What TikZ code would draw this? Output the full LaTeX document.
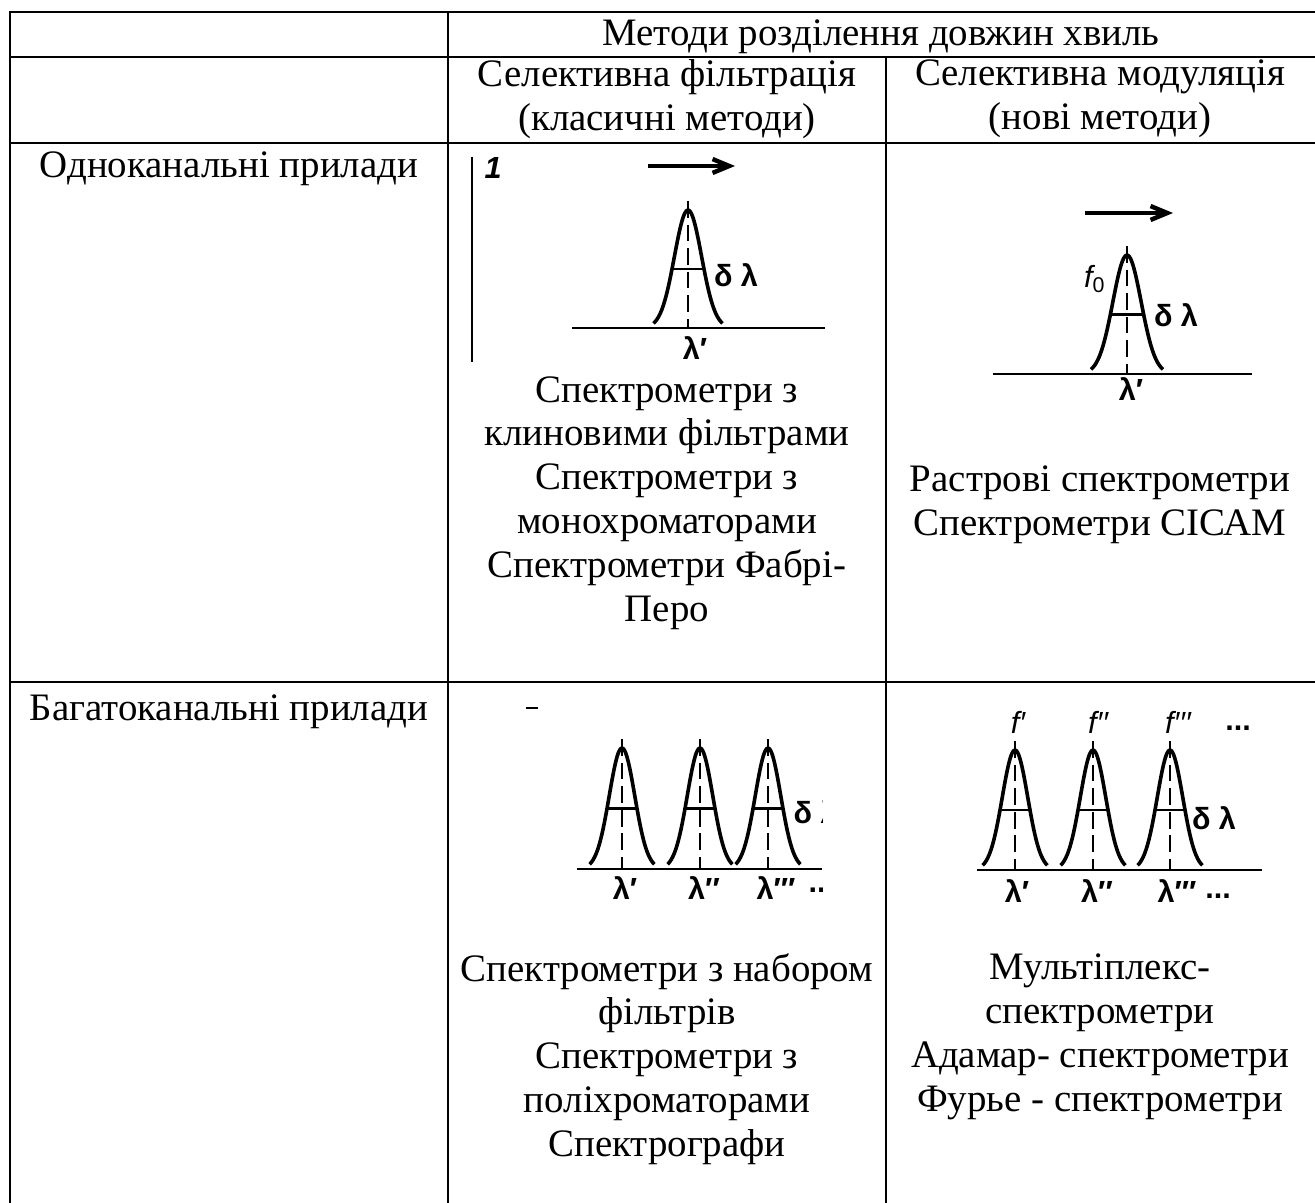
\documentclass[tikz,border=0pt]{standalone}
\usepackage{fontspec}
\setmainfont{Liberation Serif}
\newfontfamily\plotfont{Liberation Sans}
\usetikzlibrary{arrows.meta}

\newcommand{\specpeak}[4]{%
  \draw[bell] plot[domain=-1.8*#4:1.8*#4, samples=41, smooth] ({#1+\x},{#2-#3*exp(-(\x/#4)^2)});
  \draw[centre] (#1,#2-#3-9) -- (#1,#2);
  \draw[half] (#1-0.83*#4,#2-0.5*#3) -- (#1+0.83*#4,#2-0.5*#3);
}

\begin{document}
\begin{tikzpicture}[x=0.36pt, y=-0.36pt,
    rule/.style={line width=1pt},
    cell/.style={inner sep=0pt, align=center, font=\fontsize{14}{15.8}\selectfont},
    lbl/.style={inner sep=0pt, font=\plotfont\bfseries\fontsize{11}{12}\selectfont},
    flbl/.style={inner sep=0pt, font=\plotfont\itshape\fontsize{11}{12}\selectfont},
    bell/.style={line width=1.3pt},
    half/.style={line width=0.9pt},
    xline/.style={line width=1pt},
    centre/.style={line width=0.9pt, dash pattern=on 6pt off 2.5pt},
    arr/.style={line width=1.6pt, -{Straight Barb[length=6pt,width=5pt]}}
  ]
  \useasboundingbox (0,0) rectangle (1315,1203);

  \draw[rule] (1315,12) -- (10,12) -- (10,1203);
  \draw[rule] (10,57) -- (1315,57);
  \draw[rule] (10,143) -- (1315,143);
  \draw[rule] (10,682) -- (1315,682);
  \draw[rule] (448,12) -- (448,1203);
  \draw[rule] (886,57) -- (886,1203);

  \node[cell] (hdr) at (881,37) {Методи розділення довжин хвиль};
  \node[cell] (filt) at (667,99) {Селективна фільтрація\\(класичні методи)};
  \node[cell] (modul) at (1100,99) {Селективна модуляція\\(нові методи)};
  \node[cell] (single) at (229,169) {Одноканальні прилади};
  \node[cell] (multi) at (229,712) {Багатоканальні прилади};

  \node[cell] (filtsingle) at (667,503) {Спектрометри з\\клиновими фільтрами\\Спектрометри з\\монохроматорами\\Спектрометри Фабрі-\\Перо};
  \node[cell] (modsingle) at (1100,505) {Растрові спектрометри\\Спектрометри СІСАМ};
  \node[cell] (filtmulti) at (667,1059) {Спектрометри з набором\\фільтрів\\Спектрометри з\\поліхроматорами\\Спектрографи};
  \node[cell] (modmulti) at (1100,1037) {Мультіплекс-\\спектрометри\\Адамар- спектрометри\\Фурье - спектрометри};

  % single channel, filter
  \draw[line width=0.8pt] (472,157) -- (472,362);
  \node[lbl, font=\plotfont\bfseries\itshape\fontsize{11}{12}\selectfont] (one) at (493,168) {1};
  \coordinate (a1s) at (648,166);
  \coordinate (a1e) at (735,166);
  \draw[arr] (a1s) -- (a1e);
  \draw[xline] (572,328) -- (825,328);
  \specpeak{688}{328}{118}{19.2}
  \node[lbl] (dl1) at (736,275) {δ λ};
  \node[lbl] (lam1) at (695,348) {λ′};

  % single channel, modulation
  \coordinate (a2s) at (1085,213);
  \coordinate (a2e) at (1173,213);
  \draw[arr] (a2s) -- (a2e);
  \draw[xline] (993,374) -- (1252,374);
  \specpeak{1127}{374}{119}{20}
  \node[flbl] (f0) at (1095,279) {f\upshape\textsubscript{0}};
  \node[lbl] (dl2) at (1176,315) {δ λ};
  \node[lbl] (lam2) at (1131,389) {λ′};

  % multichannel, filter
  \begin{scope}
    \clip (500,690) rectangle (822,915);
    \draw[line width=1pt] (526,708) -- (538,708);
    \draw[xline] (577,869) -- (822,869);
    \foreach \c in {622,700,768} {\specpeak{\c}{869}{121}{18}}
    \node[lbl, anchor=west] (dl3) at (793,812) {δ λ};
    \node[lbl] (lam3a) at (625,888) {λ′};
    \node[lbl] (lam3b) at (704,888) {λ′′};
    \node[lbl] (lam3c) at (776,888) {λ′′′};
    \node[lbl, anchor=west] (dots3) at (808,890) {..};
  \end{scope}

  % multichannel, modulation
  \draw[xline] (977,870) -- (1262,870);
  \foreach \c in {1015,1093,1170} {\specpeak{\c}{870}{120}{18}}
  \node[flbl] (fa) at (1018,722) {f′};
  \node[flbl] (fb) at (1098,722) {f′′};
  \node[flbl] (fc) at (1178,722) {f′′′};
  \node[lbl] (dots4a) at (1238,728) {...};
  \node[lbl] (dl4) at (1214,818) {δ λ};
  \node[lbl] (lam4a) at (1017,891) {λ′};
  \node[lbl] (lam4b) at (1097,891) {λ′′};
  \node[lbl] (lam4c) at (1177,891) {λ′′′};
  \node[lbl] (dots4b) at (1218,896) {...};
\end{tikzpicture}
\end{document}
